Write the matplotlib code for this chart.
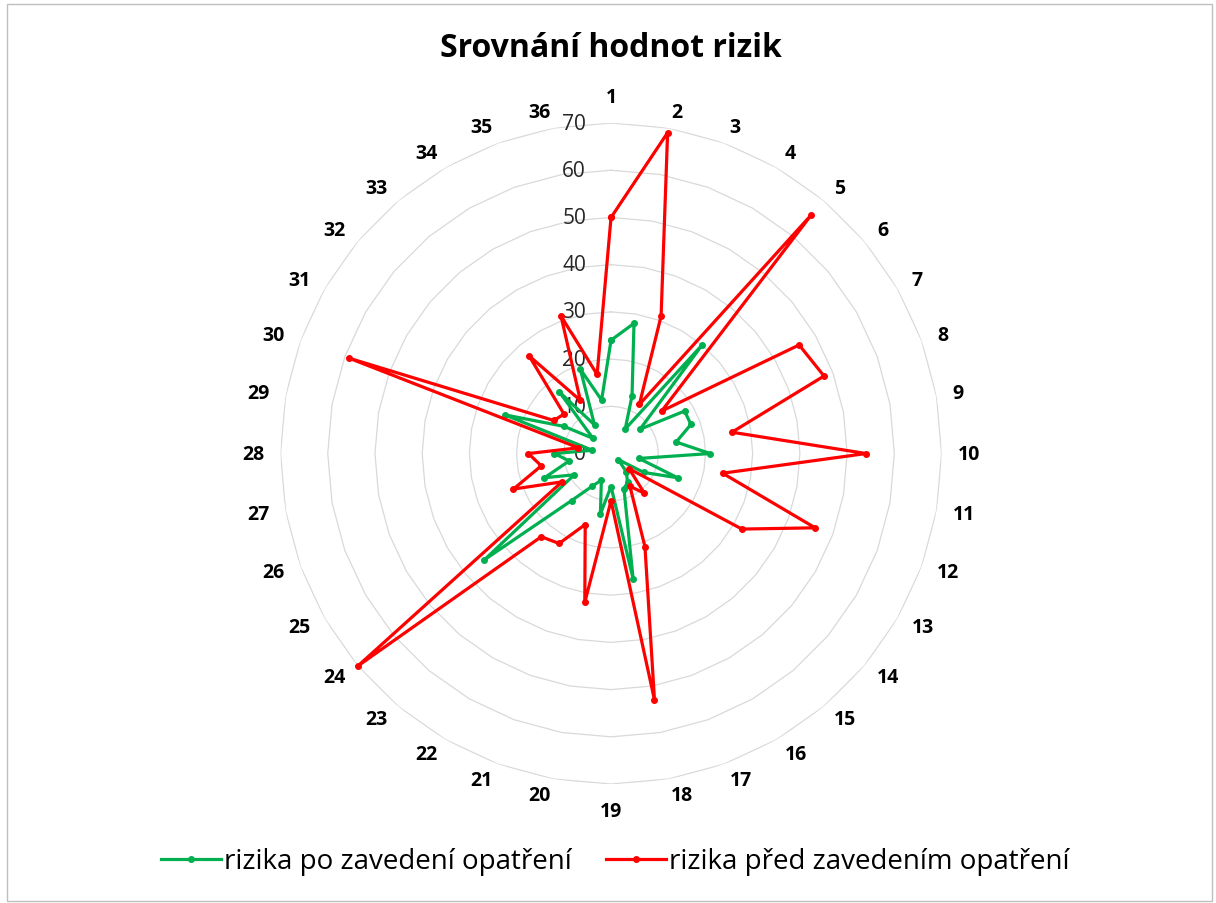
import numpy as np
import matplotlib.pyplot as plt
from matplotlib.patches import Rectangle

plt.rcParams['font.family'] = ['Open Sans', 'DejaVu Sans']

# risk number 1..36 around the radar
categories = [str(i) for i in range(1, 37)]

# values
after_measures = [24, 28, 13, 6, 30, 8, 18, 18, 14, 21, 6, 15,
                  8, 2, 5, 7, 8, 27, 7, 13, 6, 8, 13, 35,
                  9, 15, 9, 12, 4, 24, 11.5, 5, 17, 7, 19, 11.5]
before_measures = [50, 69, 31, 12, 66, 14, 46, 48, 26, 54, 24, 46,
                   32, 5, 11, 8, 21, 53, 10, 32, 16, 22, 23, 70,
                   12, 22, 15, 17.5, 7, 59, 14, 13, 27, 13, 31, 17]

series_labels = ['rizika po zavedení opatření', 'rizika před zavedením opatření']
series_colors = ['#00B050', '#FF0000']
r_ticks = [0, 10, 20, 30, 40, 50, 60, 70]

fig = plt.figure(figsize=(12.16, 9.04), dpi=100)
ax = fig.add_axes([0.2307, 0.1316, 0.5436, 0.7312], projection='polar')
ax.set_theta_zero_location('N')
ax.set_theta_direction(-1)
ax.set_ylim(0, 70)
ax.grid(False)
ax.spines['polar'].set_visible(False)
ax.set_xticks([])
ax.set_yticks([])

n = len(categories)
theta = np.linspace(0, 2 * np.pi, n, endpoint=False)
theta_closed = np.append(theta, theta[0])

# polygon gridlines
for r in r_ticks[1:]:
    ax.plot(theta_closed, [r] * (n + 1), color='#d9d9d9', lw=0.9, zorder=1)

# radial tick labels to the left of the first spoke
for r in r_ticks:
    ax.annotate(str(r), xy=(0, r), xytext=(-18, 0), textcoords='offset points',
                ha='right', va='center', fontsize=15, color='#262626')

# category labels, anchored by the box edge nearest to the chart
for t, lab in zip(theta, categories):
    s, c = np.sin(t), np.cos(t)
    ha = 'left' if s > 0.01 else ('right' if s < -0.01 else 'center')
    if abs(s) > 0.01:
        va = 'center'
    else:
        va = 'bottom' if c > 0 else 'top'
    ax.text(t, 73.5, lab, ha=ha, va=va, fontsize=14,
            fontweight='bold', color='black')

handles = []
for vals, lab, col in zip([after_measures, before_measures], series_labels, series_colors):
    v = np.append(vals, vals[0])
    h, = ax.plot(theta_closed, v, color=col, lw=2.3, marker='o', ms=4,
                 label=lab, zorder=3, clip_on=False)
    handles.append(h)

fig.text(0.5025, 0.946, 'Srovnání hodnot rizik', ha='center', va='center',
         fontsize=23, fontweight='bold')

fig.legend(handles=handles, loc='center', bbox_to_anchor=(0.506, 0.046), ncol=2,
           frameon=False, fontsize=20, handlelength=2.15, handletextpad=0.1,
           columnspacing=1.25)

fig.patches.append(Rectangle((0.006, 0.002), 0.991, 0.992, transform=fig.transFigure,
                             fill=False, edgecolor='#bfbfbf', lw=1.0))

fig.savefig('out.png', dpi=100)
